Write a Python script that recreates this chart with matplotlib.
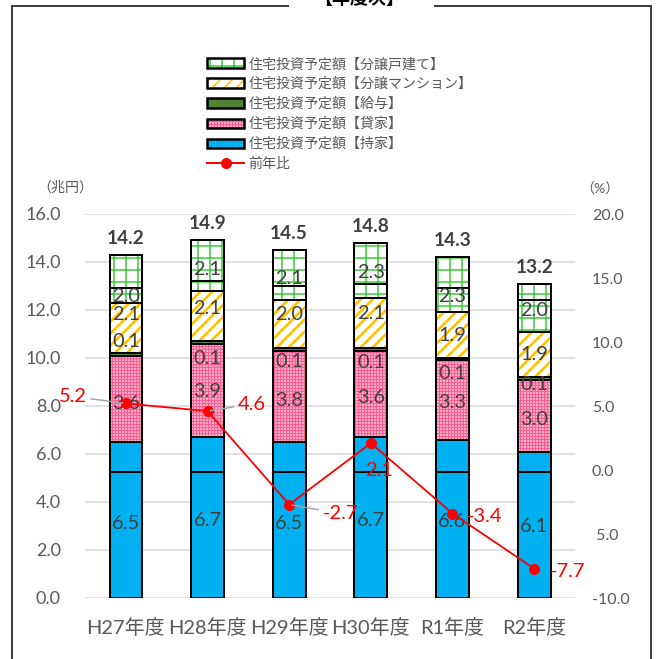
import matplotlib
matplotlib.use('Agg')
import matplotlib.pyplot as plt
from matplotlib.patches import Patch
from matplotlib.lines import Line2D
import numpy as np

# values (兆円 / %)
years = ['H27年度', 'H28年度', 'H29年度', 'H30年度', 'R1年度', 'R2年度']
mochiie = [6.5, 6.7, 6.5, 6.7, 6.6, 6.1]      # 持家
kashiya = [3.6, 3.9, 3.8, 3.6, 3.3, 3.0]      # 貸家
kyuyo = [0.1, 0.1, 0.1, 0.1, 0.1, 0.1]        # 給与
mansion = [2.1, 2.1, 2.0, 2.1, 1.9, 1.9]      # 分譲マンション
kodate = [2.0, 2.1, 2.1, 2.3, 2.3, 2.0]       # 分譲戸建て
totals = [14.2, 14.9, 14.5, 14.8, 14.3, 13.2]
yoy = [5.2, 4.6, -2.7, 2.1, -3.4, -7.7]       # 前年比
# stray inner border lines visible in the reference bars
mochiie_split = [5.25, 5.25, 5.25, 5.25, 5.25, 5.25]
kodate_split = [12.9, 13.2, 13.0, 13.1, 12.9, 12.4]
right_ticks = [-10, -5, 0, 5, 10, 15, 20]
right_labels = ['-10.0', ' 5.0', '0.0', '5.0', '10.0', '15.0', '20.0']

# label placement tweaks (data units), to mimic the reference
label_nudge = {
    'mochiie': [-0.15, -0.1, -0.15, -0.1, -0.1, -0.05],
    'kashiya': [-0.2, -0.05, -0.15, -0.15, -0.1, -0.15],
    'kyuyo': [0.55, -0.65, -0.5, -0.55, -0.6, -0.25],
    'mansion': [0.55, 0.3, 0.4, 0.4, 0.0, 0.0],
    'kodate': [-0.75, -0.15, -0.15, -0.1, -0.5, -0.1],
}
yoy_offsets = [(-53, 7), (44, 7), (51, -9), (8, -27), (32, -3), (33, -3)]
yoy_leader = [True, True, True, False, False, False]

DPI = 72
W, H = 658, 659
plt.rcParams['font.family'] = ['Lato', 'Noto Sans CJK JP', 'DejaVu Sans']

BLUE = '#00b0f0'
PINK = '#ff5c93'
DGREEN = '#548235'
YELLOW = '#ffc000'
LGREEN = '#3cc83c'
RED = '#ff0000'
TXT = '#404040'
GRAY = '#595959'

fig = plt.figure(figsize=(W / DPI, H / DPI), dpi=DPI)
fig.patch.set_facecolor('white')
ax = fig.add_axes([85 / W, 1 - 598 / H, (575 - 85) / W, (598 - 214) / H])
ax2 = ax.twinx()

x = np.arange(len(years))
bw = 0.4
EDGE = 2.0


def set_hlw(bars, lw):
    for b in bars:
        if hasattr(b, 'set_hatch_linewidth'):
            b.set_hatch_linewidth(lw)


def stack(vals, bottom, face, hatch=None, hcolor=None, hlw=1.0):
    if hatch:
        bars = ax.bar(x, vals, bw, bottom=bottom, color='white', edgecolor=hcolor,
                      hatch=hatch, linewidth=0, zorder=2)
        set_hlw(bars, hlw)
    else:
        ax.bar(x, vals, bw, bottom=bottom, color=face, linewidth=0, zorder=2)
    ax.bar(x, vals, bw, bottom=bottom, fill=False, edgecolor='black',
           linewidth=EDGE, zorder=3)


plt.rcParams['hatch.linewidth'] = 1.5
b0 = np.zeros(len(x))
b1 = b0 + np.array(mochiie)
b2 = b1 + np.array(kashiya)
b3 = b2 + np.array(kyuyo)
b4 = b3 + np.array(mansion)
b5 = b4 + np.array(kodate)

stack(mochiie, b0, BLUE)
stack(kashiya, b1, None, hatch='++++', hcolor=PINK, hlw=1.5)
stack(kyuyo, b2, DGREEN)
stack(mansion, b3, None, hatch='//', hcolor=YELLOW, hlw=2.5)
stack(kodate, b4, None, hatch='+', hcolor=LGREEN, hlw=1.5)

# inner lines
ax.bar(x, mochiie_split, bw, bottom=0, fill=False, edgecolor='black',
       linewidth=EDGE, zorder=3)
ax.bar(x, np.array(kodate_split) - b4, bw, bottom=b4, fill=False,
       edgecolor='black', linewidth=EDGE, zorder=3)

# segment labels
for key, vals, bot in [('mochiie', mochiie, b0), ('kashiya', kashiya, b1),
                       ('kyuyo', kyuyo, b2), ('mansion', mansion, b3),
                       ('kodate', kodate, b4)]:
    for i, v in enumerate(vals):
        ax.text(x[i], bot[i] + v / 2 + label_nudge[key][i], f'{v:.1f}',
                ha='center', va='center', fontsize=20, color=TXT, zorder=4)

for i, t in enumerate(totals):
    ax.annotate(f'{t:.1f}', (x[i], b5[i]), xytext=(0, 8), textcoords='offset points',
                ha='center', va='bottom', fontsize=19, fontweight='bold', color=TXT)

ax.set_xlim(-0.5, len(x) - 0.5)
ax.set_ylim(0, 16)
ax.set_yticks(np.arange(0, 17, 2))
ax.set_yticklabels([f'{v:.1f}' for v in np.arange(0, 17, 2)])
ax.yaxis.grid(True, color='#d9d9d9', linewidth=1.5, zorder=0)
ax.set_axisbelow(True)
ax.set_xticks(x)
ax.set_xticklabels(years)
ax.tick_params(axis='y', length=0, pad=24, labelsize=18, labelcolor=GRAY)
ax.tick_params(axis='x', length=0, pad=20, labelsize=20, labelcolor=GRAY)
for s in ax.spines.values():
    s.set_visible(False)
for s in ax2.spines.values():
    s.set_visible(False)

# 前年比 line
ax2.plot(x, yoy, color=RED, linewidth=1.8, marker='o', markersize=10, zorder=5)
ax2.set_ylim(-10, 20)
ax2.set_yticks(right_ticks)
ax2.set_yticklabels(right_labels)
ax2.tick_params(axis='y', length=0, pad=17, labelsize=16, labelcolor=GRAY)
for i, v in enumerate(yoy):
    arrow = dict(arrowstyle='-', color='#a6a6a6', lw=1.5, shrinkA=2, shrinkB=3) if yoy_leader[i] else None
    ax2.annotate(f'{v:.1f}', (x[i], v), xytext=yoy_offsets[i], textcoords='offset points',
                 ha='center', va='center', fontsize=20, color=RED, arrowprops=arrow, zorder=6)

# units
fig.text(37 / W, 1 - 187 / H, '（兆円）', fontsize=14, color=GRAY, ha='left', va='center')
fig.text(580 / W, 1 - 189 / H, '（%）', fontsize=14, color=GRAY, ha='left', va='center')

# legend
def hpatch(hatch, color):
    return (Patch(facecolor='white', edgecolor=color, hatch=hatch, linewidth=0),
            Patch(fill=False, edgecolor='black', linewidth=2.5))

handles = [
    hpatch('+', LGREEN),
    hpatch('//', YELLOW),
    Patch(facecolor=DGREEN, edgecolor='black', linewidth=2.5),
    hpatch('++++', PINK),
    Patch(facecolor=BLUE, edgecolor='black', linewidth=2.5),
    Line2D([], [], color=RED, linewidth=2, marker='o', markersize=10),
]
labels = ['住宅投資予定額【分譲戸建て】', '住宅投資予定額【分譲マンション】',
          '住宅投資予定額【給与】', '住宅投資予定額【貸家】',
          '住宅投資予定額【持家】', '前年比']
leg = fig.legend(handles, labels, loc='upper left', bbox_to_anchor=(207 / W, 1 - 57 / H),
                 frameon=False, fontsize=14, handlelength=2.65, handleheight=0.64,
                 handletextpad=0.3, labelspacing=0.43, borderpad=0, borderaxespad=0)
for t in leg.get_texts():
    t.set_color(GRAY)
    t.set_family(['Noto Sans CJK JP', 'DejaVu Sans'])

# frame with title gap
fc = '#404040'
fig.add_artist(Line2D([12 / W, 12 / W], [0, 1 - 6 / H], color=fc, linewidth=2))
fig.add_artist(Line2D([651 / W, 651 / W], [0, 1 - 6 / H], color=fc, linewidth=2))
fig.add_artist(Line2D([12 / W, 288 / W], [1 - 6 / H, 1 - 6 / H], color=fc, linewidth=2))
fig.add_artist(Line2D([435 / W, 651 / W], [1 - 6 / H, 1 - 6 / H], color=fc, linewidth=2))
fig.text(359 / W, 1 + 1 / H, '【年度次】', fontsize=18, fontweight='bold', color='black',
         ha='center', va='center', family=['Noto Sans CJK JP', 'DejaVu Sans'])

fig.savefig('out.png', dpi=DPI)
